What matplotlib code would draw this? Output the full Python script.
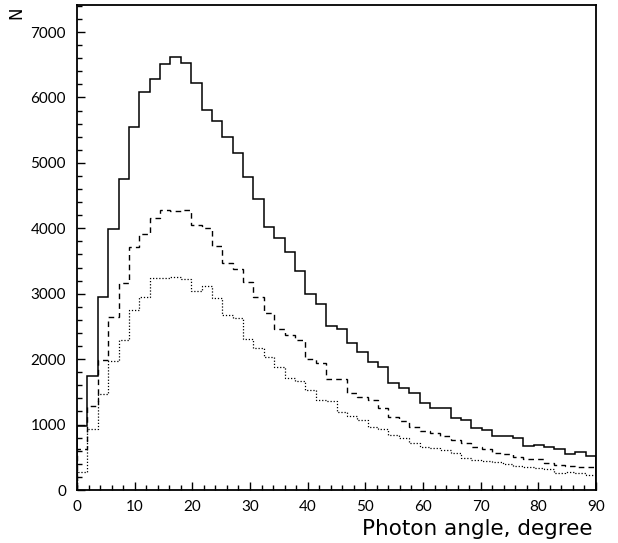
import numpy as np
import matplotlib
matplotlib.use("Agg")
import matplotlib.pyplot as plt
from matplotlib.ticker import MultipleLocator

edges = np.linspace(0, 90, 51)

solid = [985, 1740, 2955, 3989, 4748, 5543, 6078, 6282, 6511, 6613,
         6521, 6226, 5808, 5645, 5395, 5145, 4779, 4443, 4024, 3847,
         3643, 3342, 2996, 2838, 2511, 2461, 2242, 2104, 1952, 1885,
         1630, 1564, 1478, 1334, 1258, 1258, 1105, 1070, 952, 917,
         825, 825, 790, 672, 683, 662, 622, 555, 576, 525]

dashed = [620, 1280, 1987, 2649, 3159, 3719, 3907, 4162, 4285, 4260,
          4285, 4045, 4000, 3725, 3477, 3383, 3174, 2950, 2710, 2461,
          2369, 2292, 1997, 1936, 1692, 1692, 1478, 1426, 1376, 1258,
          1120, 1059, 967, 902, 866, 830, 764, 723, 662, 627,
          571, 550, 499, 474, 469, 408, 382, 367, 347, 347]

dotted = [280, 927, 1467, 1968, 2292, 2755, 2945, 3240, 3235, 3260,
          3222, 3046, 3123, 2930, 2675, 2624, 2305, 2166, 2038, 1875,
          1707, 1671, 1528, 1376, 1360, 1197, 1131, 1070, 958, 927,
          841, 790, 723, 653, 637, 610, 560, 484, 458, 448,
          433, 397, 367, 357, 331, 321, 265, 275, 265, 229]

xticks = [0, 10, 20, 30, 40, 50, 60, 70, 80, 90]
yticks = [0, 1000, 2000, 3000, 4000, 5000, 6000, 7000]

plt.rcParams['font.family'] = ['Lato', 'DejaVu Sans']
plt.rcParams['font.weight'] = 'normal'

fig = plt.figure(figsize=(6.18, 5.43), dpi=100)
ax = fig.add_axes([77/618, 1 - 490/543, (596-77)/618, (490-5)/543])

ax.stairs(solid, edges, color='black', linewidth=1.1)
ax.stairs(dashed, edges, color='black', linewidth=1.0, linestyle=(0, (4, 3)))
ax.stairs(dotted, edges, color='black', linewidth=0.9, linestyle=(0, (1, 1.5)))

ax.set_xlim(0, 90)
ax.set_ylim(0, 7413)
ax.set_xticks(xticks)
ax.set_yticks(yticks)
ax.set_xticklabels([str(v) for v in xticks])
ax.set_yticklabels([str(v) for v in yticks])
ax.xaxis.set_minor_locator(MultipleLocator(2))
ax.yaxis.set_minor_locator(MultipleLocator(200))
ax.tick_params(which='both', direction='in', top=False, right=False,
               labelsize=11, width=1.0, pad=8, colors='black')
ax.tick_params(which='major', length=6)
ax.tick_params(which='minor', length=3.5)
ax.tick_params(axis='x', pad=7)
for s in ax.spines.values():
    s.set_linewidth(1.3)

fig.text(593/618, 1 - 535/543, 'Photon angle, degree', ha='right', va='baseline',
         fontsize=15.5, family=['DejaVu Sans'])
fig.text(16/618, 1 - 13/543, 'N', ha='center', va='center', rotation=90,
         fontsize=12, family=['DejaVu Sans'])

fig.savefig('out.png', dpi=100)
